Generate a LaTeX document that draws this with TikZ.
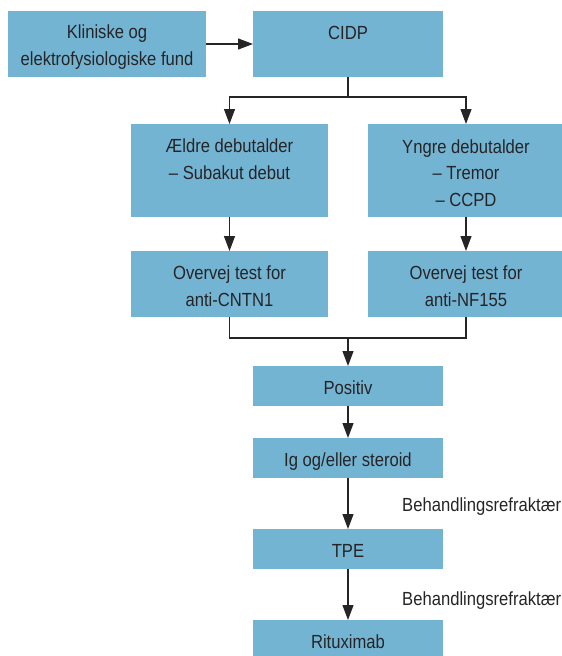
\documentclass[tikz,border=0pt]{standalone}
\usepackage{fontspec}
\setmainfont{Liberation Sans}[FakeStretch=0.875]
\usetikzlibrary{arrows.meta,calc}
\definecolor{boxblue}{RGB}{116,180,211}
\definecolor{ink}{RGB}{38,36,38}
\begin{document}
\begin{tikzpicture}[x=1pt,y=-1pt,
  box/.style={fill=boxblue,draw=none,inner sep=0pt,outer sep=0pt,anchor=north west},
  txt/.style={text=ink,align=center,inner sep=0pt,anchor=base,font=\fontsize{19}{26.5}\selectfont},
  lbl/.style={text=ink,inner sep=0pt,anchor=base west,font=\fontsize{19}{26.5}\selectfont},
  con/.style={draw=ink,line width=1.2pt},
  arr/.style={con,-{Triangle[length=15pt,width=11pt]}}]
\useasboundingbox (0,0) rectangle (562,656);
% boxes
\node[box,minimum width=198pt,minimum height=66pt] (k) at (8,11) {};
\node[box,minimum width=190pt,minimum height=66pt] (c) at (253,11) {};
\node[box,minimum width=197pt,minimum height=93pt] (a) at (131,124) {};
\node[box,minimum width=196pt,minimum height=93pt] (yb) at (368,124) {};
\node[box,minimum width=197pt,minimum height=66pt] (t1) at (131,251) {};
\node[box,minimum width=196pt,minimum height=66pt] (t2) at (368,251) {};
\node[box,minimum width=190pt,minimum height=40pt] (p) at (253,366) {};
\node[box,minimum width=190pt,minimum height=40pt] (ig) at (253,438) {};
\node[box,minimum width=190pt,minimum height=40pt] (tpe) at (253,529) {};
\node[box,minimum width=190pt,minimum height=40pt] (r) at (253,620) {};
% texts (anchor = baseline of the last line)
\node[txt] (kt) at ([yshift=-54pt]k.north) {Kliniske og\\elektrofysiologiske fund};
\node[txt] (ct) at ([yshift=-28.5pt]c.north) {CIDP};
\node[txt] (at) at ([yshift=-55pt]a.north) {Ældre debutalder\\– Subakut debut};
\node[txt] (yt) at ([yshift=-82pt]yb.north) {Yngre debutalder\\– Tremor\\– CCPD};
\node[txt] (t1t) at ([yshift=-55pt]t1.north) {Overvej test for\\anti-CNTN1};
\node[txt] (t2t) at ([yshift=-55pt]t2.north) {Overvej test for\\anti-NF155};
\node[txt] (pt) at ([yshift=-28.5pt]p.north) {Positiv};
\node[txt] (igt) at ([yshift=-28.5pt]ig.north) {Ig og/eller steroid};
\node[txt] (tpet) at ([yshift=-28.5pt]tpe.north) {TPE};
\node[txt] (rt) at ([yshift=-28.5pt]r.north) {Rituximab};
\node[lbl] (l1) at (402,511) {Behandlingsrefraktær};
\node[lbl] (l2) at (402,605) {Behandlingsrefraktær};
% connectors
\draw[arr] (k.east) -- (c.west);
\coordinate (s1) at ($(c.south)+(0,20)$);
\draw[con] (c.south) -- (s1);
\draw[arr] (s1) -| (a.north);
\draw[arr] (s1) -| (yb.north);
\draw[arr] (a.south) -- (t1.north);
\draw[arr] (yb.south) -- (t2.north);
\coordinate (m) at ($(p.north)+(0,-28)$);
\draw[con] (t1.south) |- (m) -| (t2.south);
\draw[arr] (m) -- (p.north);
\draw[arr] (p.south) -- (ig.north);
\draw[arr] (ig.south) -- (tpe.north);
\draw[arr] (tpe.south) -- (r.north);
\end{tikzpicture}
\end{document}
